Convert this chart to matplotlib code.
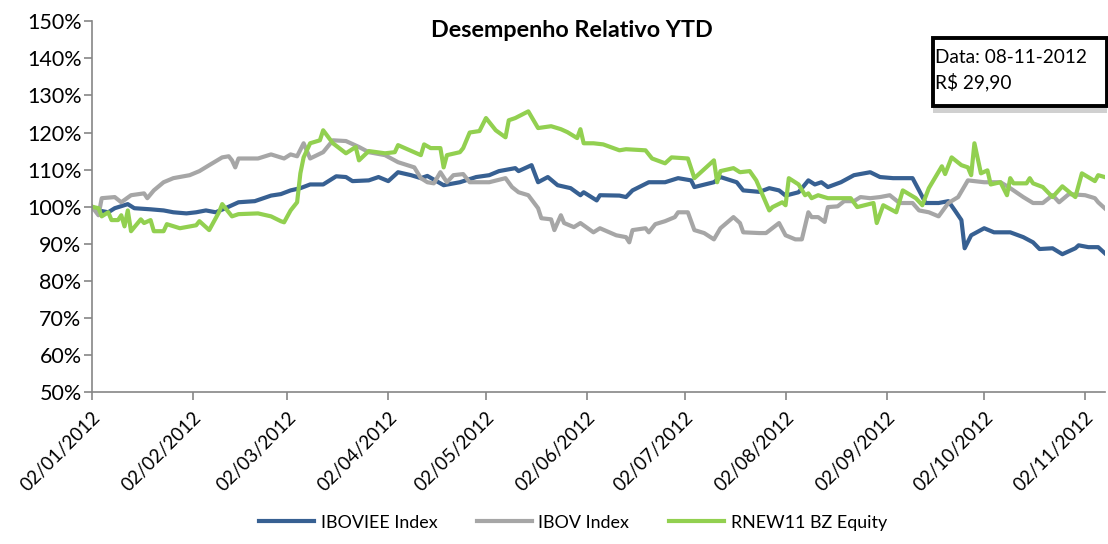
import matplotlib
matplotlib.use("Agg")
import matplotlib.pyplot as plt
import matplotlib.dates as mdates
import pandas as pd
from matplotlib.patches import Rectangle
from matplotlib.ticker import FuncFormatter, MultipleLocator

plt.rcParams['font.family'] = ['Lato', 'DejaVu Sans']

# Values (day offset from 02/01/2012, relative performance in %)
start = pd.Timestamp('2012-01-02')

iboviee_day = [0, 2, 5, 7, 11, 13, 18, 22, 25, 29, 32, 35, 38, 41, 45, 50, 55, 58, 61, 64,
               67, 71, 75, 78, 80, 85, 88, 91, 94, 98, 101, 103, 108, 113, 118, 122, 125, 130,
               131, 135, 137, 140, 143, 147, 150, 151, 155, 156, 162, 164, 166, 171, 176, 180,
               184, 185, 191, 193, 198, 200, 205, 208, 211, 213, 217, 220, 222, 224, 226, 230,
               234, 239, 242, 246, 252, 254, 256, 260, 263, 265, 267, 268, 270, 274, 277, 282,
               286, 289, 291, 295, 298, 302, 303, 306, 309, 311]
iboviee_val = [100, 99, 98.5, 99.6, 100.7, 99.6, 99.3, 99, 98.5, 98.2, 98.5, 99, 98.5, 99.6,
               101.2, 101.5, 103, 103.4, 104.4, 105, 106, 106, 108.2, 108, 106.9, 107.1, 108,
               106.9, 109.3, 108.5, 107.7, 108.3, 105.8, 106.6, 108, 108.5, 109.6, 110.4, 109.6,
               111.2, 106.6, 108, 105.8, 105, 103.1, 103.9, 101.7, 103.1, 103, 102.6, 104.4,
               106.6, 106.6, 107.7, 107.1, 105.3, 106.6, 108, 106.6, 104.4, 104, 105, 104.4, 103,
               103.9, 107.1, 106, 106.6, 105.3, 106.6, 108.5, 109.3, 108, 107.7, 107.7, 104.4,
               101, 101, 101.5, 99, 96.4, 88.8, 92.3, 94.2, 93.1, 93.1, 91.8, 90.4, 88.6, 88.8,
               87.2, 88.8, 89.6, 89.1, 89.1, 87.5]

ibov_day = [0, 2, 3, 7, 9, 12, 16, 17, 19, 22, 25, 30, 33, 36, 40, 42, 43, 44, 45, 51, 55,
            59, 61, 63, 65, 67, 71, 74, 78, 82, 85, 90, 94, 99, 101, 103, 105, 107, 109, 111,
            114, 116, 122, 127, 129, 131, 134, 137, 138, 141, 142, 144, 145, 148, 150, 154,
            156, 161, 164, 165, 166, 170, 171, 173, 176, 179, 180, 183, 185, 188, 191, 193,
            197, 199, 200, 205, 207, 211, 213, 216, 218, 220, 221, 223, 225, 226, 229, 231,
            234, 236, 239, 242, 245, 248, 252, 254, 257, 260, 263, 266, 269, 274, 279, 282,
            286, 289, 292, 295, 297, 300, 305, 308, 309, 311]
ibov_val = [100, 97.7, 102.3, 102.6, 101.2, 103.1, 103.6, 102.3, 104.4, 106.6, 107.7, 108.5,
            109.6, 111.2, 113.3, 113.6, 112.5, 110.6, 113, 113, 114.1, 113, 114.1, 113.6,
            117.1, 113, 114.7, 117.9, 117.7, 116.1, 114.7, 113.9, 112, 110.6, 107.7, 106.6,
            106.3, 109.3, 106.6, 108.5, 108.8, 106.6, 106.6, 107.7, 105.3, 103.9, 103.1, 99.6,
            96.9, 96.6, 93.7, 97.7, 95.6, 94.5, 95.6, 93.1, 94.2, 92.3, 91.8, 90.4, 93.7, 94.2,
            93.1, 95.3, 96.1, 97.2, 98.5, 98.5, 93.7, 92.9, 91.2, 94.2, 97.2, 95.6, 93.1, 92.9,
            92.9, 95.6, 92.3, 91.2, 91.2, 98.5, 97.2, 97.2, 95.9, 99.9, 100.1, 101.5, 101.5,
            102.6, 102.3, 102.6, 103.1, 101, 101, 99, 98.5, 97.4, 101, 102.6, 107.1, 106.6,
            106.6, 105, 102.6, 101, 101, 103.1, 101.2, 103.4, 103.1, 102.3, 101.2, 99.6]

rnew_day = [0, 2, 3, 5, 6, 8, 9, 10, 11, 12, 15, 16, 18, 19, 22, 23, 27, 32, 33, 36, 39, 40,
            43, 45, 51, 55, 58, 59, 61, 63, 64, 65, 67, 70, 71, 74, 78, 81, 82, 85, 90, 93, 94,
            101, 102, 104, 107, 108, 109, 113, 114, 116, 119, 121, 124, 127, 128, 130, 134,
            137, 141, 144, 146, 149, 150, 151, 154, 157, 162, 164, 170, 172, 176, 178, 183,
            185, 191, 192, 193, 197, 199, 202, 204, 208, 209, 212, 213, 214, 217, 219, 220,
            221, 223, 226, 233, 235, 240, 241, 243, 247, 249, 253, 255, 257, 261, 262, 264,
            267, 269, 270, 271, 273, 275, 276, 279, 281, 282, 283, 287, 288, 289, 292, 295,
            298, 302, 304, 308, 309, 311]
rnew_val = [100, 99.6, 97.4, 98.5, 96.4, 96.4, 97.7, 94.7, 99, 93.4, 96.6, 95.6, 96.4, 93.4,
            93.4, 95.3, 94.2, 95, 96.1, 93.7, 98.5, 100.7, 97.4, 98, 98.2, 97.4, 96.1, 95.8, 99,
            101.2, 109, 113.3, 117.1, 117.9, 120.6, 117.1, 114.4, 116.1, 112.5, 115, 114.4,
            114.7, 116.6, 113.9, 116.8, 115.8, 115.8, 110.6, 113.9, 114.7, 115.8, 120, 120.4,
            123.9, 120.6, 118.7, 123.3, 123.9, 125.7, 121.2, 121.7, 120.9, 120.1, 118.5, 120.9,
            117.1, 117.1, 116.8, 115.2, 115.5, 115.2, 113, 111.7, 113.3, 113, 107.7, 112.5,
            106.6, 109.6, 110.4, 109.3, 109.6, 107.1, 99, 99.9, 101.2, 100.4, 107.7, 106, 103.1,
            103.6, 102.3, 103.1, 102.3, 102.3, 99.9, 101, 95.6, 100.4, 98.5, 104.4, 102.3,
            100.4, 105, 110.9, 108.8, 113.3, 111.2, 110.6, 108.5, 117.1, 109, 109.8, 106, 106.6,
            103.1, 107.7, 106.3, 106.3, 107.7, 106.3, 105.3, 102.6, 105.5, 102.6, 109, 106.9,
            108.5, 108]

series_names = ['IBOVIEE Index', 'IBOV Index', 'RNEW11 BZ Equity']
series_colors = ['#376092', '#A6A6A6', '#92D050']

chart_title = 'Desempenho Relativo YTD'
box_lines = ['Data: 08-11-2012', 'R$ 29,90']

fig = plt.figure(figsize=(11.08, 5.44), dpi=100)
ax = fig.add_axes([0.083, 0.279, 0.914, 0.682])

series = [(iboviee_day, iboviee_val), (ibov_day, ibov_val), (rnew_day, rnew_val)]
for (days, vals), name, color in zip(series, series_names, series_colors):
    dates = start + pd.to_timedelta(days, unit='D')
    ax.plot(dates, vals, color=color, lw=3.0, label=name, solid_joinstyle='round')

ax.set_xlim(start, pd.Timestamp('2012-11-08'))
ax.set_ylim(50, 150)
ax.yaxis.set_major_locator(MultipleLocator(10))
ax.yaxis.set_major_formatter(FuncFormatter(lambda v, p: '%d%%' % round(v)))
ax.xaxis.set_major_locator(mdates.MonthLocator(bymonthday=2))
ax.xaxis.set_major_formatter(mdates.DateFormatter('%d/%m/%Y'))

ax.tick_params(axis='both', color='#868686', length=6, width=1.2)
ax.tick_params(axis='y', labelsize=15.5, pad=1.5)
ax.tick_params(axis='x', labelsize=13.5, pad=6)

for lab in ax.get_xticklabels():
    lab.set_rotation(45)
    lab.set_ha('right')
    lab.set_va('top')
    lab.set_rotation_mode('anchor')

ax.spines['right'].set_visible(False)
ax.spines['top'].set_visible(False)
for s in ['left', 'bottom']:
    ax.spines[s].set_color('#868686')
    ax.spines[s].set_linewidth(1.2)

fig.text(0.516, 0.944, chart_title, ha='center', va='center', fontsize=16.8, fontweight='bold')

# Info box with a drop shadow
fig.patches.append(Rectangle((0.842, 0.793), 0.157, 0.128, transform=fig.transFigure,
                             facecolor='#D0D0D0', edgecolor='none', zorder=5))
fig.patches.append(Rectangle((0.842, 0.805), 0.157, 0.125, transform=fig.transFigure,
                             facecolor='white', edgecolor='black', lw=2.8, zorder=6))
fig.text(0.844, 0.895, box_lines[0], ha='left', va='center', fontsize=13.7, zorder=7)
fig.text(0.844, 0.849, box_lines[1], ha='left', va='center', fontsize=13.7, zorder=7)

fig.legend(loc='lower center', bbox_to_anchor=(0.517, -0.005), ncol=3, frameon=False,
           fontsize=12.9, handlelength=3.1, columnspacing=2.2, handletextpad=0.35)

plt.savefig('out.png', dpi=100)
